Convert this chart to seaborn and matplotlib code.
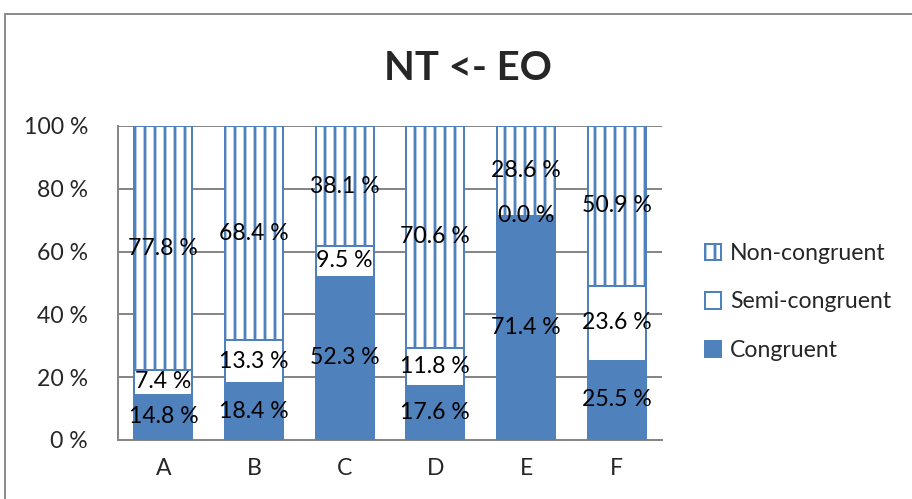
import matplotlib
matplotlib.use("Agg")
import matplotlib.pyplot as plt
import matplotlib.patches as mpatches
import numpy as np
import pandas as pd
import seaborn as sns

groups = ["A", "B", "C", "D", "E", "F"]
congruent = [14.8, 18.4, 52.3, 17.6, 71.4, 25.5]
semi_congruent = [7.4, 13.3, 9.5, 11.8, 0.0, 23.6]
non_congruent = [77.8, 68.4, 38.1, 70.6, 28.6, 50.9]
y_ticks = [0, 20, 40, 60, 80, 100]
title = "NT <- EO"

BLUE = "#4F81BD"
GRID = "#868686"
DPI = 120
W, H = 912, 499
FS = 13.8

sns.set_theme(style="white")
plt.rcParams["font.family"] = ["Lato", "DejaVu Sans"]
plt.rcParams["hatch.linewidth"] = 1.7

df = pd.DataFrame({
    "group": groups,
    "cong": congruent,
    "semi": semi_congruent,
    "non": non_congruent,
})
df["low"] = df["cong"]
df["mid"] = df["cong"] + df["semi"]
df["top"] = df["mid"] + df["non"]

fig = plt.figure(figsize=(W / DPI, H / DPI), dpi=DPI)
ax = fig.add_axes([118 / W, 59 / H, 544 / W, 314 / H])

width = 0.64
# stacked look: draw cumulative totals from tallest to shortest
sns.barplot(data=df, x="group", y="top", ax=ax, color="white", width=width,
            edgecolor=BLUE, linewidth=1.2, hatch="||", saturation=1, zorder=2)
sns.barplot(data=df, x="group", y="mid", ax=ax, color="white", width=width,
            edgecolor=BLUE, linewidth=1.2, saturation=1, zorder=3)
sns.barplot(data=df, x="group", y="low", ax=ax, color=BLUE, width=width,
            edgecolor=BLUE, linewidth=0, saturation=1, zorder=4)

# segment value labels
for i, row in df.iterrows():
    for bottom, val in ((0, row["cong"]), (row["low"], row["semi"]), (row["mid"], row["non"])):
        ax.text(i, bottom + val / 2, f"{val:.1f} %", ha="center", va="center",
                fontsize=FS, color="black", zorder=6)

ax.set_ylim(0, 100)
ax.set_xlim(-0.5, len(groups) - 0.5)
ax.set_yticks(y_ticks)
ax.set_yticklabels([f"{t} %" for t in y_ticks], fontsize=FS)
ax.tick_params(axis="x", labelsize=FS, pad=11, length=0)
ax.tick_params(axis="y", pad=18, length=0)
ax.set_xlabel("")
ax.set_ylabel("")
ax.yaxis.grid(True, color=GRID, linewidth=1.2, zorder=0)
ax.set_axisbelow(True)
for side in ("top", "right"):
    ax.spines[side].set_visible(False)
for side in ("left", "bottom"):
    ax.spines[side].set_color(GRID)
    ax.spines[side].set_linewidth(1.2)

fig.text(468 / W, 1 - 68 / H, title, ha="center", va="center",
         fontsize=24, fontweight="bold")

handles = [
    mpatches.Patch(facecolor="white", edgecolor=BLUE, hatch="||", linewidth=1.2, label="Non-congruent"),
    mpatches.Patch(facecolor="white", edgecolor=BLUE, linewidth=1.2, label="Semi-congruent"),
    mpatches.Patch(facecolor=BLUE, edgecolor=BLUE, linewidth=1.2, label="Congruent"),
]
fig.legend(handles=handles, loc="center left", bbox_to_anchor=(684 / W, 1 - 302 / H),
           frameon=False, fontsize=FS, handlelength=0.7, handleheight=0.7,
           handletextpad=0.4, labelspacing=1.2)

# chart frame
fig.add_artist(plt.Line2D([5 / W, 5 / W], [0, 1 - 14 / H], transform=fig.transFigure,
                          color="#8C8C8C", linewidth=1.2))
fig.add_artist(plt.Line2D([5 / W, 1], [1 - 14 / H, 1 - 14 / H], transform=fig.transFigure,
                          color="#8C8C8C", linewidth=1.2))

fig.savefig("out.png", dpi=DPI, facecolor="white")
